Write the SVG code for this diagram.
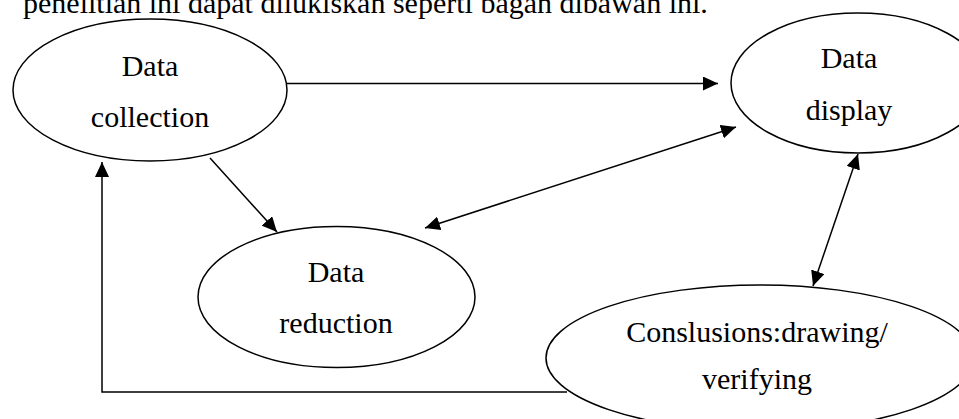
<svg xmlns="http://www.w3.org/2000/svg" width="959" height="419" viewBox="0 0 959 419">
<style>
.n{fill:none;stroke:#000;stroke-width:1.5}
.t{font-family:"Liberation Serif","Times New Roman",serif;font-size:30px;fill:#000;text-anchor:middle}
.c{fill:none;stroke:#000;stroke-width:1.5}
</style>
<defs>
<marker id="ah" viewBox="0 0 15 14" refX="15" refY="7" markerWidth="15" markerHeight="14" markerUnits="userSpaceOnUse" orient="auto-start-reverse">
<path d="M0,0 L15,7 L0,14 Z" fill="#000"/>
</marker>
</defs>
<rect width="959" height="419" fill="#fff"/>
<text x="23" y="12.5" style="font-family:'Liberation Serif','Times New Roman',serif;font-size:30px;fill:#000">penelitian ini dapat dilukiskan seperti bagan dibawah ini.</text>
<g id="data-collection">
<ellipse class="n" cx="150" cy="90" rx="137" ry="71"/>
<text class="t" x="150" y="76">Data</text>
<text class="t" x="150" y="127">collection</text>
</g>
<g id="data-display">
<ellipse class="n" cx="858" cy="83" rx="127" ry="70"/>
<text class="t" x="849" y="68">Data</text>
<text class="t" x="849" y="120">display</text>
</g>
<g id="data-reduction">
<ellipse class="n" cx="336.5" cy="297" rx="138.5" ry="70.5"/>
<text class="t" x="336" y="282">Data</text>
<text class="t" x="336" y="333">reduction</text>
</g>
<g id="conclusions">
<ellipse class="n" cx="760" cy="358" rx="214" ry="73"/>
<text class="t" x="757" y="342">Conslusions:drawing/</text>
<text class="t" x="757" y="389">verifying</text>
</g>
<g id="connectors">
<line class="c" x1="287" y1="83.5" x2="718" y2="83.5" marker-end="url(#ah)"/>
<line class="c" x1="210" y1="158" x2="277" y2="232" marker-end="url(#ah)"/>
<line class="c" x1="425" y1="228" x2="736" y2="127" marker-start="url(#ah)" marker-end="url(#ah)"/>
<line class="c" x1="858" y1="154" x2="813" y2="286" marker-start="url(#ah)" marker-end="url(#ah)"/>
<polyline class="c" points="567,392 102,392 102,162" marker-end="url(#ah)"/>
</g>
</svg>
